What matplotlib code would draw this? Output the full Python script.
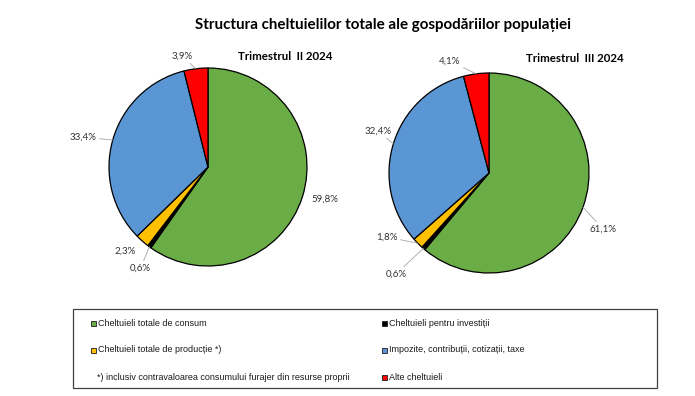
import matplotlib
matplotlib.use("Agg")
import matplotlib.pyplot as plt
from matplotlib.patches import Rectangle
import numpy as np

# ---- data ----
categories = ["Cheltuieli totale de consum", "Cheltuieli pentru investiții",
              "Cheltuieli totale de producție *)", "Impozite, contribuții, cotizații, taxe",
              "Alte cheltuieli"]
q2_values = [59.8, 0.6, 2.3, 33.4, 3.9]
q3_values = [61.1, 0.6, 1.8, 32.4, 4.1]
q2_labels = ["59,8%", "0,6%", "2,3%", "33,4%", "3,9%"]
q3_labels = ["61,1%", "0,6%", "1,8%", "32,4%", "4,1%"]
colors = ["#6AAC46", "#000000", "#FFC000", "#5B96D4", "#FF0000"]
title = "Structura cheltuielilor totale ale gospodăriilor populației"
sub_titles = ["Trimestrul  II 2024", "Trimestrul  III 2024"]
footnote = "*) inclusiv contravaloarea consumului furajer din resurse proprii"

# ---- layout ----
W, H = 695, 396
fig = plt.figure(figsize=(W / 100, H / 100), dpi=100)
fig.patch.set_facecolor("white")

LIM = 1.06
pies = [
    dict(cx=208, cy=167, r=99, vals=q2_values, labs=q2_labels,
         pos=[(1.18, -0.33), (-0.68, -1.02), (-0.84, -0.85), (-1.26, 0.30), (-0.26, 1.12)],
         lead=[False, True, False, True, True],
         sub=(285, 57, 95)),
    dict(cx=489, cy=173, r=100, vals=q3_values, labs=q3_labels,
         pos=[(1.14, -0.56), (-0.93, -1.01), (-1.02, -0.64), (-1.11, 0.42), (-0.39, 1.12)],
         lead=[True, True, True, True, True],
         sub=(575, 59, 99)),
]

lab_font = dict(family="Lato", size=7, color="#333333")

for i, p in enumerate(pies):
    half = p["r"] * LIM
    ax = fig.add_axes([(p["cx"] - half) / W, (H - p["cy"] - half) / H,
                       2 * half / W, 2 * half / H])
    ax.pie(p["vals"], colors=colors, startangle=90, counterclock=False,
           radius=1.0, wedgeprops=dict(edgecolor="black", linewidth=0.9))
    ax.set_xlim(-LIM, LIM)
    ax.set_ylim(-LIM, LIM)
    ax.set_aspect("equal")
    ax.axis("off")
    total = sum(p["vals"])
    cum = np.cumsum([0] + list(p["vals"]))
    for j, v in enumerate(p["vals"]):
        mid = np.deg2rad(90 - 360 * (cum[j] + v / 2) / total)
        rim = (np.cos(mid), np.sin(mid))
        tx, ty = p["pos"][j]
        if p["lead"][j]:
            ax.annotate(p["labs"][j], xy=rim, xytext=(tx, ty), ha="center", va="center",
                        annotation_clip=False,
                        arrowprops=dict(arrowstyle="-", color="#A6A6A6", lw=0.6,
                                        shrinkA=0, shrinkB=0),
                        **lab_font)
        else:
            ax.text(tx, ty, p["labs"][j], ha="center", va="center", clip_on=False,
                    **lab_font)

renderer = fig.canvas.get_renderer()


def fit_text(x, y, s, width_px, **kw):
    t = fig.text(x / W, 1 - y / H, s, ha="center", va="center", **kw)
    bb = t.get_window_extent(renderer)
    t.set_fontsize(t.get_fontsize() * width_px / bb.width)
    return t


fit_text(383, 25, title, 377, family="Lato", weight="bold", size=10, color="#000000")
for i, p in enumerate(pies):
    sx, sy, sw = p["sub"]
    fit_text(sx, sy, sub_titles[i], sw, family="Lato", weight="bold", size=8, color="#000000")

# ---- legend box ----
box_l, box_t, box_r, box_b = 73, 309, 657, 388
fig.patches.append(Rectangle((box_l / W, 1 - box_b / H), (box_r - box_l) / W,
                             (box_b - box_t) / H, transform=fig.transFigure,
                             facecolor="white", edgecolor="#404040", linewidth=0.9))

leg_font = dict(family="Liberation Sans", size=6.5, color="#1a1a1a")
row_y = [323, 350, 377]
col_x = [91, 382]
items = [(0, 0, 0), (1, 0, 2), (0, 1, 1), (1, 1, 3), (2, 1, 4)]  # (row, col, category)
for row, col, k in items:
    mx, my = col_x[col], row_y[row]
    fig.patches.append(Rectangle((mx / W, 1 - (my + 2.5) / H), 5 / W, 5 / H,
                                 transform=fig.transFigure, facecolor=colors[k],
                                 edgecolor="#1a1a1a", linewidth=0.6))
    fig.text((mx + 7) / W, 1 - my / H, categories[k], ha="left", va="center", **leg_font)
fig.text(97 / W, 1 - row_y[2] / H, footnote, ha="left", va="center", **leg_font)

fig.savefig("out.png", dpi=100, facecolor="white")
